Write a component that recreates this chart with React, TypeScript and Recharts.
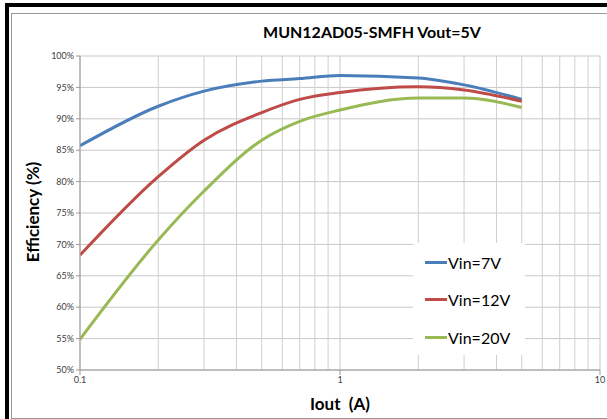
import React from 'react';
import { LineChart, Line, XAxis, YAxis, CartesianGrid, ReferenceLine, Legend } from 'recharts';

const currents = [0.1, 0.2, 0.3, 0.5, 0.7, 1, 2, 3, 5];
const vin7 = [85.7, 92.0, 94.4, 96.0, 96.4, 96.9, 96.5, 95.4, 93.1];
const vin12 = [68.3, 80.8, 86.6, 91.0, 93.1, 94.2, 95.1, 94.6, 92.8];
const vin20 = [54.9, 70.7, 78.5, 86.6, 89.6, 91.4, 93.3, 93.3, 91.8];
const seriesNames = ['Vin=7V', 'Vin=12V', 'Vin=20V'];
const seriesColors = ['#4a7ebb', '#be4b48', '#98b954'];
const xMajorTicks = [0.1, 1, 10];
const xMinorGrid = [0.2, 0.3, 0.4, 0.5, 0.6, 0.7, 0.8, 0.9, 2, 3, 4, 5, 6, 7, 8, 9];
const yTicks = [50, 55, 60, 65, 70, 75, 80, 85, 90, 95, 100];

const data = currents.map((c, i) => ({ x: c, a: vin7[i], b: vin12[i], c: vin20[i] }));

const font = 'Lato, "Open Sans", sans-serif';

const LegendContent = (props: any) => {
  const payload = [...(props.payload || [])].sort(
    (p: any, q: any) => seriesNames.indexOf(p.value) - seriesNames.indexOf(q.value)
  );
  return (
    <div style={{ position: 'relative', width: 112, height: 112, background: '#fff', fontFamily: font, fontSize: 16, color: '#000' }}>
      {payload.map((p: any, i: number) => (
        <div key={i} style={{ position: 'absolute', left: 12, top: 8 + i * 37.5, display: 'flex', alignItems: 'center', height: 22, whiteSpace: 'nowrap' }}>
          <div style={{ width: 22, height: 3, background: p.color, marginRight: 1 }} />
          <span>{p.value}</span>
        </div>
      ))}
    </div>
  );
};

export default function App() {
  return (
    <div style={{ position: 'absolute', left: 0, top: 0, width: 607, height: 419, background: '#fff', overflow: 'hidden' }}>
      <div style={{ position: 'absolute', left: 5, top: 3, width: 4, height: 416, background: '#000' }} />
      <div style={{ position: 'absolute', left: 5, top: 3, width: 602, height: 4, background: '#000' }} />
      <div style={{ position: 'absolute', left: 11, top: 13, width: 620, height: 404, border: '1px solid #999' }} />
      <div style={{ position: 'absolute', left: 0, top: 0 }}>
        <LineChart width={607} height={419} data={data} margin={{ top: 56, right: 7, left: 30, bottom: 29 }}>
          <CartesianGrid stroke="#c8c8c8" strokeWidth={1} />
          {xMinorGrid.map((v) => (
            <ReferenceLine key={v} x={v} stroke="#cfcfcf" strokeWidth={1} />
          ))}
          <XAxis
            dataKey="x"
            type="number"
            scale="log"
            domain={[0.1, 10]}
            ticks={xMajorTicks}
            allowDataOverflow
            height={20}
            stroke="#999"
            tickSize={5}
            tick={{ fontSize: 9, fill: '#404040', fontFamily: font }}
            tickFormatter={(v: number) => String(v)}
          />
          <YAxis
            type="number"
            domain={[50, 100]}
            ticks={yTicks}
            width={50}
            stroke="#999"
            tickSize={4}
            tick={{ fontSize: 9, fill: '#404040', fontFamily: font }}
            tickFormatter={(v: number) => `${v}%`}
          />
          <Legend
            layout="vertical"
            align="center"
            verticalAlign="middle"
            content={<LegendContent />}
            wrapperStyle={{ left: 413, top: 243, width: 112, height: 112 }}
          />
          <Line type="monotone" dataKey="a" name={seriesNames[0]} stroke={seriesColors[0]} strokeWidth={3} dot={false} isAnimationActive={false} />
          <Line type="monotone" dataKey="b" name={seriesNames[1]} stroke={seriesColors[1]} strokeWidth={3} dot={false} isAnimationActive={false} />
          <Line type="monotone" dataKey="c" name={seriesNames[2]} stroke={seriesColors[2]} strokeWidth={3} dot={false} isAnimationActive={false} />
        </LineChart>
      </div>
      <div style={{ position: 'absolute', left: 172, top: 22, width: 400, textAlign: 'center', fontFamily: font, fontWeight: 700, fontSize: 16, color: '#000' }}>
        MUN12AD05-SMFH Vout=5V
      </div>
      <div style={{ position: 'absolute', left: 240, top: 393, width: 200, textAlign: 'center', fontFamily: font, fontWeight: 700, fontSize: 17, color: '#000', whiteSpace: 'pre' }}>
        {'Iout  (A)'}
      </div>
      <div style={{ position: 'absolute', left: 33 - 100, top: 212 - 11, width: 200, height: 22, lineHeight: '22px', textAlign: 'center', transform: 'rotate(-90deg)', fontFamily: font, fontWeight: 700, fontSize: 17, color: '#000' }}>
        Efficiency (%)
      </div>
    </div>
  );
}
